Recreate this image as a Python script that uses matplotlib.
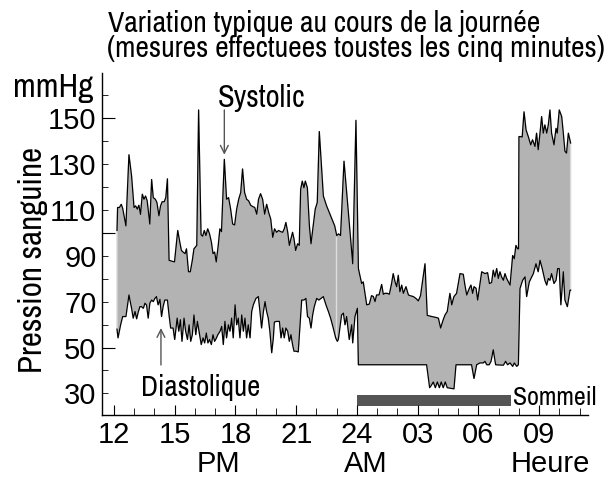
import numpy as np
import matplotlib
matplotlib.use('Agg')
import matplotlib.pyplot as plt
from matplotlib.ticker import MultipleLocator

# heures (12 = midi, 24 = minuit, >24 = lendemain matin) et pressions en mmHg
sys_t = [12.15, 12.18, 12.27, 12.36, 12.43, 12.59, 12.74, 12.87, 12.99, 13.07,
         13.15, 13.23, 13.31, 13.40, 13.48, 13.56, 13.64, 13.77, 13.86, 13.94,
         14.04, 14.12, 14.22, 14.30, 14.38, 14.48, 14.56, 14.64, 14.72, 14.86,
         14.99, 15.15, 15.25, 15.33, 15.41, 15.51, 15.58, 15.68, 15.77, 15.87,
         15.95, 16.09, 16.18, 16.30, 16.38, 16.46, 16.54, 16.63, 16.72, 16.81,
         16.89, 16.97, 17.05, 17.15, 17.23, 17.31, 17.45, 17.56, 17.66, 17.76,
         17.86, 17.96, 18.06, 18.16, 18.26, 18.35, 18.45, 18.55, 18.65, 18.75,
         18.85, 18.95, 19.05, 19.14, 19.24, 19.34, 19.44, 19.54, 19.64, 19.74,
         19.84, 19.93, 20.03, 20.13, 20.23, 20.33, 20.41, 20.49, 20.58, 20.66,
         20.74, 20.82, 20.89, 20.97, 21.07, 21.15, 21.22, 21.30, 21.38, 21.45,
         21.55, 21.65, 21.73, 21.84, 21.94, 22.04, 22.14, 22.34, 22.50, 22.70,
         22.90, 23.00, 23.09, 23.19, 23.36, 23.79, 23.95, 24.07, 24.23, 24.31,
         24.48, 24.61, 24.72, 24.81, 24.89, 24.97, 25.09, 25.22, 25.30, 25.38,
         25.50, 25.60, 25.71, 25.79, 25.88, 25.96, 26.04, 26.12, 26.21, 26.29,
         26.42, 26.54, 26.62, 26.78, 26.91, 27.03, 27.14, 27.36, 27.47, 27.69,
         27.90, 28.02, 28.13, 28.26, 28.35, 28.46, 28.59, 28.68, 28.79, 28.92,
         29.09, 29.25, 29.33, 29.42, 29.55, 29.63, 29.71, 29.78, 29.88, 29.96,
         30.16, 30.32, 30.45, 30.54, 30.65, 30.73, 30.81, 30.90, 30.98, 31.06,
         31.14, 31.23, 31.31, 31.39, 31.56, 31.69, 31.77, 31.85, 31.93, 31.98,
         32.00, 32.08, 32.16, 32.25, 32.35, 32.46, 32.58, 32.67, 32.79, 32.87,
         32.95, 33.04, 33.12, 33.20, 33.28, 33.37, 33.45, 33.53, 33.61, 33.73,
         33.83, 33.89, 33.99, 34.11, 34.19, 34.27, 34.35, 34.44, 34.55]
sys_v = [101, 111, 111, 112.4, 110.6, 103, 134, 124.7, 111, 111.7,
         110.3, 112, 108, 116.8, 114.6, 116, 113.9, 103.8, 123.2, 115.3,
         114.6, 113.2, 107.4, 111.7, 113.5, 113.5, 115.3, 123.5, 88, 87.6,
         87.3, 101, 95.9, 92.3, 91.6, 90.9, 93, 83, 83, 88,
         93, 94.5, 153.5, 99.1, 98.5, 101, 98.8, 101.7, 99.5, 95.9,
         90.9, 91.6, 87.3, 94.5, 101.7, 100.5, 132, 114.6, 115.3, 110.3,
         103.8, 103.4, 110.3, 114.6, 117.5, 127.8, 117.5, 114.6, 113.9, 112,
         111.4, 111, 108.1, 114.6, 117, 114.6, 108.1, 112.4, 108.8, 106,
         98, 101.7, 100.2, 101, 100.5, 100.2, 101.7, 104.5, 100.2, 94.5,
         97.3, 100.2, 97.3, 92.3, 95.2, 94.5, 118.9, 122.5, 119.6, 122.5,
         119.6, 103, 95.2, 103, 110.3, 113.2, 144.1, 116, 111.7, 107.4,
         103, 98.8, 99.5, 98.8, 131.2, 86.5, 149, 84.4, 77.9, 78.6,
         68.6, 68.9, 72.6, 72.2, 70, 72.9, 72.9, 77.5, 73.2, 73.6,
         73.6, 73.2, 77.9, 82.2, 78.6, 76.5, 81.5, 74.3, 77.2, 73.6,
         76.5, 72.9, 72.6, 72.2, 71.4, 70.3, 72.6, 86.5, 64, 63.5,
         63.1, 62.8, 58.5, 62.1, 64.2, 65.7, 73.6, 68.6, 72.2, 73.6,
         82.2, 81.9, 77.2, 72.9, 75.8, 77.2, 73.6, 76.5, 75.8, 70.7,
         83, 82.2, 82.6, 77.9, 78.3, 83.7, 80.8, 84.4, 80.1, 83,
         80.8, 79.3, 82.2, 80.1, 77.2, 90.1, 88.7, 94.5, 93, 93,
         141.9, 141.9, 141.7, 152.7, 144.8, 141.9, 138.3, 140.5, 137.6, 143.4,
         136.2, 143.4, 150.6, 143.4, 147, 143.4, 147, 153.5, 143.4, 138.3,
         145.5, 143.4, 153.5, 150.6, 143.4, 135.5, 134.7, 143.4, 139.1]

dia_t = [12.15, 12.20, 12.33, 12.43, 12.59, 12.74, 12.87, 12.95, 13.04, 13.12,
         13.20, 13.28, 13.36, 13.45, 13.53, 13.61, 13.69, 13.77, 13.86, 13.94,
         14.02, 14.10, 14.18, 14.27, 14.35, 14.43, 14.51, 14.64, 14.72, 14.80,
         14.92, 15.00, 15.12, 15.20, 15.28, 15.36, 15.46, 15.54, 15.63, 15.71,
         15.79, 15.87, 15.95, 16.04, 16.12, 16.20, 16.31, 16.40, 16.48, 16.56,
         16.64, 16.72, 16.81, 16.89, 16.97, 17.05, 17.13, 17.24, 17.32, 17.40,
         17.48, 17.56, 17.65, 17.73, 17.81, 17.89, 17.98, 18.06, 18.14, 18.22,
         18.31, 18.39, 18.47, 18.55, 18.63, 18.72, 18.80, 18.88, 19.01, 19.13,
         19.21, 19.29, 19.38, 19.46, 19.54, 19.62, 19.70, 19.79, 19.87, 19.92,
         20.03, 20.17, 20.25, 20.33, 20.41, 20.49, 20.58, 20.66, 20.74, 20.82,
         20.89, 20.99, 21.10, 21.27, 21.38, 21.48, 21.56, 21.65, 21.73, 21.81,
         21.89, 22.01, 22.12, 22.22, 22.34, 22.47, 22.59, 22.70, 22.83, 22.95,
         23.03, 23.08, 23.24, 23.33, 23.41, 23.49, 23.62, 23.74, 23.79, 23.90,
         24.02, 24.07, 27.44, 27.59, 27.67, 27.77, 27.87, 27.97, 28.07, 28.16,
         28.26, 28.36, 28.46, 28.79, 28.89, 29.66, 29.78, 29.91, 30.07, 30.24,
         30.32, 30.41, 30.53, 30.62, 30.73, 30.85, 31.23, 31.34, 31.44, 31.56,
         31.69, 31.77, 31.89, 31.97, 32.05, 32.18, 32.30, 32.38, 32.51, 32.63,
         32.71, 32.84, 32.95, 33.04, 33.15, 33.28, 33.37, 33.45, 33.53, 33.61,
         33.73, 33.83, 33.91, 33.99, 34.07, 34.19, 34.27, 34.39, 34.52, 34.55]
dia_v = [58, 54.2, 60, 63.5, 63.5, 72.9, 67.1, 62.8, 65.7, 62.5,
         65.5, 67.8, 67.8, 67.1, 69.3, 68.5, 62.8, 69.3, 70.7, 70,
         71.4, 72.2, 68.6, 71, 63.5, 68, 70.7, 70.7, 64.2, 58.5,
         58.5, 53.5, 62.8, 57.1, 62.1, 52.7, 62.8, 57.1, 53.5, 59.9,
         52.7, 55.6, 64.2, 55.6, 61.4, 57.1, 51.3, 54.2, 52, 56.3,
         52, 53.5, 51.3, 55.6, 52.7, 54, 55.6, 57.1, 59.2, 51.3,
         61.4, 54.2, 59.9, 57.1, 62.8, 54.2, 68.6, 59.9, 62.8, 54.2,
         64.2, 57.1, 62.8, 54.2, 59.9, 54.2, 65.7, 68.6, 71.4, 72.2,
         65.7, 58.5, 65.7, 70, 65.7, 62.8, 57.1, 47.7, 54.2, 61.1,
         61.4, 61.4, 54.2, 58.5, 54.2, 58.5, 57.1, 52.7, 55.6, 51.3,
         48.4, 48.4, 48.1, 70.7, 70.7, 71.4, 63.5, 62.8, 58.5, 64.2,
         67.8, 71.4, 70.7, 71.4, 72.2, 68.6, 65.7, 62.8, 58.5, 54.2,
         52.7, 53.5, 64.2, 65, 59.9, 63.5, 53.5, 59.9, 52, 63.5,
         67.1, 42.5, 42.5, 32.5, 33.5, 35, 32.5, 35, 32.5, 35,
         32.5, 35, 32.5, 32, 42.5, 42.5, 36.5, 42.5, 43.3, 43.3,
         44, 42.5, 42.5, 44, 49, 42.5, 42.3, 44, 42.5, 43.3,
         41.8, 43.3, 41.8, 42.5, 75.7, 79.3, 80.8, 72.2, 78.6, 80.8,
         82.2, 86.5, 83, 88, 84.4, 79.3, 77.2, 80.1, 79.3, 82.2,
         77.9, 79.3, 84.4, 84.4, 68.6, 83, 70.7, 67.8, 75, 75]

hour_ticks = [12, 15, 18, 21, 24, 27, 30, 33]
hour_labels = ['12', '15', '18', '21', '24', '03', '06', '09']
y_labels = [30, 50, 70, 90, 110, 130, 150]

narrow = ['Archivo Narrow', 'Liberation Sans']
normal = ['Liberation Sans']

fig = plt.figure(figsize=(6.12, 4.79), dpi=100)
ax = fig.add_axes([0.1667, 0.1336, 0.7941, 0.714])

# bande grise entre systolique et diastolique
poly_t = np.concatenate([sys_t, dia_t[::-1]])
poly_v = np.concatenate([sys_v, dia_v[::-1]])
ax.fill(poly_t, poly_v, facecolor='#b3b3b3', edgecolor='#d8d8d8', lw=1)
ax.plot([22.95, 22.95], [55, 98], color='#dedede', lw=1)
ax.plot(sys_t, sys_v, color='black', lw=0.9)
ax.plot(dia_t, dia_v, color='black', lw=0.9)

# barre de sommeil
ax.fill_between([24.0, 31.6], 24.6, 29.3, color='#555555', lw=0)

ax.set_xlim(11.41, 35.41)
ax.set_ylim(20.6, 169.6)

for s in ['top', 'right']:
    ax.spines[s].set_visible(False)
for s in ['left', 'bottom']:
    ax.spines[s].set_linewidth(1)

ax.set_xticks(hour_ticks)
ax.set_xticklabels(hour_labels, family=normal, fontsize=21)
ax.xaxis.set_minor_locator(MultipleLocator(1))
ax.tick_params(axis='x', which='major', direction='in', length=7, pad=4)
ax.tick_params(axis='x', which='minor', direction='in', length=5)

ax.set_yticks([50, 100, 150])
ax.set_yticklabels([])
ax.yaxis.set_minor_locator(MultipleLocator(10))
ax.tick_params(axis='y', which='major', direction='in', length=9)
ax.tick_params(axis='y', which='minor', direction='in', length=4.5)

sec = ax.secondary_yaxis('left')
sec.set_yticks(y_labels)
sec.set_yticklabels([str(v) for v in y_labels], family=normal, fontsize=21)
sec.tick_params(length=0, pad=4)
sec.spines['left'].set_visible(False)

# textes
ax.text(17.14, 154.8, 'Systolic', family=narrow, fontsize=22, va='baseline')
ax.annotate('', xy=(17.45, 134), xytext=(17.45, 153.5),
            arrowprops=dict(arrowstyle='->', color='#555555', lw=1,
                            mutation_scale=14, shrinkA=0, shrinkB=0))
ax.text(13.33, 28.9, 'Diastolique', family=narrow, fontsize=20.7, va='baseline')
ax.annotate('', xy=(14.32, 58.5), xytext=(14.32, 42.4),
            arrowprops=dict(arrowstyle='->', color='#555555', lw=1,
                            mutation_scale=14, shrinkA=0, shrinkB=0))
ax.text(31.70, 25.0, 'Sommeil', family=narrow, fontsize=18.6, va='baseline')
ax.text(-0.018, 159.2, 'mmHg', family=narrow, fontsize=24, ha='right',
        va='baseline', transform=ax.get_yaxis_transform())

fig.text(33 / 612, 1 - 260 / 479, 'Pression sanguine', family=narrow,
         fontsize=23.7, rotation=90, ha='center', va='center')
fig.text(108 / 612, 1 - 32 / 479, 'Variation typique au cours de la journée',
         family=narrow, fontsize=21.4, va='baseline')
fig.text(107 / 612, 1 - 57 / 479,
         '(mesures effectuees toustes les cinq minutes)',
         family=narrow, fontsize=21.4, va='baseline')
for lab, xp in [('PM', 218.5), ('AM', 365.5), ('Heure', 550)]:
    fig.text(xp / 612, 1 / 479, lab, family=normal, fontsize=21,
             ha='center', va='bottom')

fig.savefig('out.png', dpi=100)
